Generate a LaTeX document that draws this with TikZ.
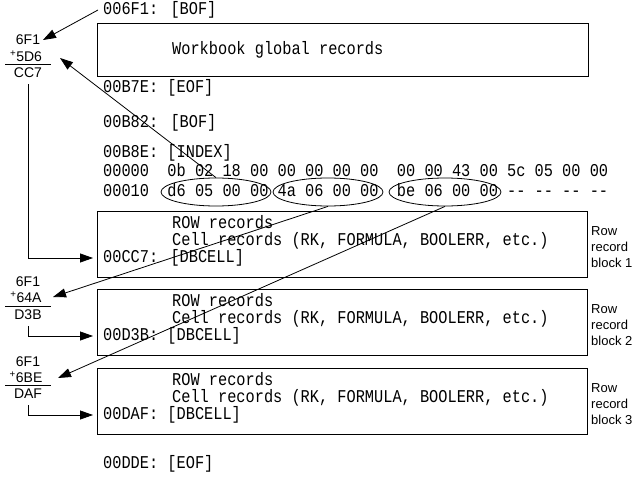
\documentclass[tikz,border=0pt]{standalone}
\usepackage{fontspec}
\setmainfont{Liberation Sans}
\newfontfamily\monof[FakeStretch=0.85]{Liberation Mono}
\usetikzlibrary{arrows.meta,shapes.geometric}
\begin{document}
\begin{tikzpicture}[x=1pt,y=-1pt,
  mono/.style={font=\monof\fontsize{18}{20}\selectfont, anchor=west, inner sep=0pt, text height=11.4pt, text depth=1.6pt},
  lbl/.style={font=\fontsize{14}{16}\selectfont, inner sep=0pt},
  rlbl/.style={font=\fontsize{13}{16}\selectfont, align=left, anchor=north west, inner sep=0pt},
  blk/.style={draw, line width=0.9pt, minimum width=490pt, minimum height=66pt, anchor=north west, inner sep=0pt},
  oval/.style={draw, ellipse, line width=0.8pt, minimum width=110pt, minimum height=28pt, inner sep=0pt},
  arr/.style={line width=0.8pt, -{Triangle[length=13pt,width=9pt]}},
  rule/.style={line width=0.8pt},
]
\useasboundingbox (0,0) rectangle (644,476);

% top records
\node[mono] (bof1) at (103,10) {006F1: [BOF]};
\node[blk, minimum width=491pt, minimum height=53pt] (wbbox) at (97,23) {};
\node[mono] (wb) at (172,50) {Workbook global records};
\node[mono] (eof1) at (103,88) {00B7E: [EOF]};
\node[mono] (bof2) at (103,123) {00B82: [BOF]};
\node[mono] (index) at (103,153) {00B8E: [INDEX]};
\node[mono] (hex0) at (103,172) {00000~~0b 02 18 00 00 00 00 00~~00 00 43 00 5c 05 00 00};
\node[mono] (hex1) at (103,192) {00010~~d6 05 00 00 4a 06 00 00~~be 06 00 00 -\kern0pt- -\kern0pt- -\kern0pt- -\kern0pt-};

\node[oval] (e1) at (216,192) {};
\node[oval] (e2) at (328,192) {};
\node[oval, minimum width=112pt] (e3) at (445,192) {};

% row blocks
\node[blk] (rb1) at (97,211) {};
\node[mono] (row1) at (172,224) {ROW records};
\node[mono] (cell1) at (172,241) {Cell records (RK, FORMULA, BOOLERR, etc.)};
\node[mono] (db1) at (103,258) {00CC7: [DBCELL]};
\node[rlbl] (l1) at (591,226) {Row\\record\\block 1};

\node[blk] (rb2) at (97,289) {};
\node[mono] (row2) at (172,302) {ROW records};
\node[mono] (cell2) at (172,319) {Cell records (RK, FORMULA, BOOLERR, etc.)};
\node[mono] (db2) at (103,336) {00D3B: [DBCELL]};
\node[rlbl] (l2) at (591,304) {Row\\record\\block 2};

\node[blk] (rb3) at (97,368) {};
\node[mono] (row3) at (172,381) {ROW records};
\node[mono] (cell3) at (172,398) {Cell records (RK, FORMULA, BOOLERR, etc.)};
\node[mono] (db3) at (103,415) {00DAF: [DBCELL]};
\node[rlbl] (l3) at (591,383) {Row\\record\\block 3};

\node[mono] (eof2) at (103,464) {00DDE: [EOF]};

% left sums
\node[lbl] (a1) at (28,40) {6F1};
\node[lbl] (b1) at (26,56) {\textsuperscript{+}5D6};
\draw[rule] (5,64) -- (51,64);
\node[lbl] (c1) at (28,73) {CC7};

\node[lbl] (a2) at (28,282) {6F1};
\node[lbl] (b2) at (26,297) {\textsuperscript{+}64A};
\draw[rule] (5,306) -- (51,306);
\node[lbl] (c2) at (28,315) {D3B};

\node[lbl] (a3) at (28,362) {6F1};
\node[lbl] (b3) at (26,377) {\textsuperscript{+}6BE};
\draw[rule] (5,385) -- (51,385);
\node[lbl] (c3) at (28,394) {DAF};

% arrow tips
\coordinate (t0) at (43,40);
\coordinate (t1) at (60,58);
\coordinate (t2) at (53,297);
\coordinate (t3) at (58,378);

\draw[arr] ([xshift=-5pt]bof1.west) -- (t0);
\draw[arr] (e1.north) -- (t1);
\draw[arr] (e2.south) -- (t2);
\draw[arr] (e3.south) -- (t3);

\draw[arr, shorten <=6pt, shorten >=4pt] (c1.south) |- (rb1.west |- db1.west);
\draw[arr, shorten <=6pt, shorten >=4pt] (c2.south) |- (rb2.west |- db2.west);
\draw[arr, shorten <=6pt, shorten >=4pt] (c3.south) |- (rb3.west |- db3.west);
\end{tikzpicture}
\end{document}
